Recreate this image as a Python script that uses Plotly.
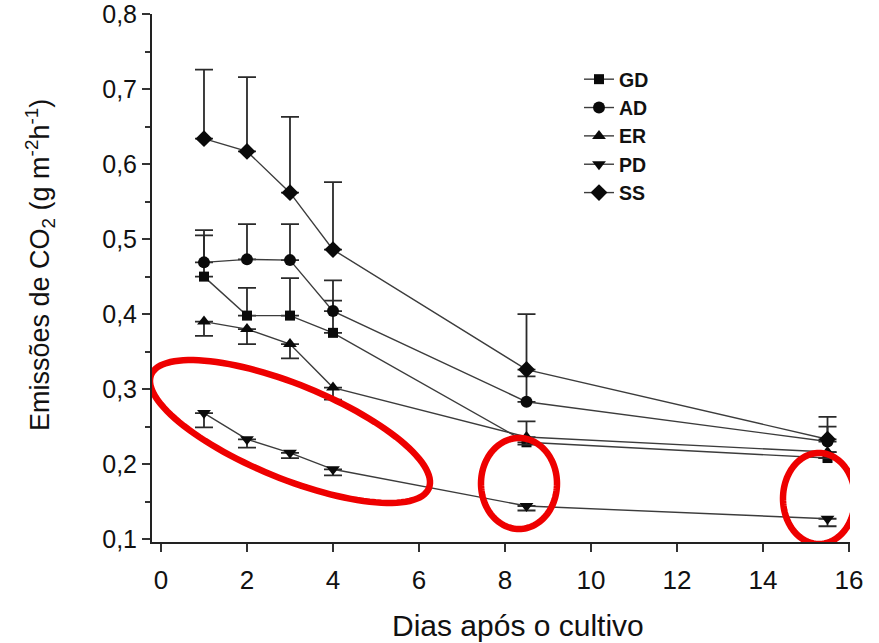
import numpy as np
import plotly.graph_objects as go

# ---------------- data ----------------
days = [1, 2, 3, 4, 8.5, 15.5]

series_names = ["GD", "AD", "ER", "PD", "SS"]

gd_values = [0.450, 0.398, 0.398, 0.375, 0.229, 0.208]
ad_values = [0.469, 0.473, 0.472, 0.404, 0.283, 0.230]
er_values = [0.390, 0.380, 0.360, 0.302, 0.236, 0.216]
pd_values = [0.268, 0.233, 0.215, 0.193, 0.144, 0.127]
ss_values = [0.634, 0.617, 0.562, 0.486, 0.326, 0.233]

# error bars (upper for GD, AD, SS; lower for ER, PD)
gd_err_up = [0.055, 0.037, 0.050, 0.043, 0.028, 0.008]
ad_err_up = [0.043, 0.047, 0.048, 0.041, 0.034, 0.020]
ss_err_up = [0.092, 0.099, 0.101, 0.090, 0.074, 0.030]
er_err_down = [0.019, 0.020, 0.019, 0.016, 0.010, 0.008]
pd_err_down = [0.019, 0.011, 0.007, 0.008, 0.006, 0.010]

x_ticks = [0, 2, 4, 6, 8, 10, 12, 14, 16]
y_ticks = [0.1, 0.2, 0.3, 0.4, 0.5, 0.6, 0.7, 0.8]

x_title = "Dias após o cultivo"
y_title = "Emissões de CO<sub>2</sub> (g m<sup>-2</sup>h<sup>-1</sup>)"

# ---------------- layout geometry ----------------
W, H = 879, 643
ML, MR, MT, MB = 152, 29, 14, 101
XR = [-0.209, 16.023]
YR = [0.096, 0.8003]

FONT = "Arial, Liberation Sans, sans-serif"
LINE_COLOR = "#3c3c3c"
MARK_COLOR = "#0a0a0a"
ERR_COLOR = "#2a2a2a"
TEXT_COLOR = "#111111"

pw = W - ML - MR
ph = H - MT - MB


def px_to_data(px, py):
    x = XR[0] + (px - ML) / pw * (XR[1] - XR[0])
    y = YR[1] - (py - MT) / ph * (YR[1] - YR[0])
    return x, y


def ellipse_path(cx, cy, a, b, theta_deg, n=120):
    t = np.linspace(0, 2 * np.pi, n, endpoint=False)
    th = np.radians(theta_deg)
    ex = cx + a * np.cos(t) * np.cos(th) - b * np.sin(t) * np.sin(th)
    ey = cy + a * np.cos(t) * np.sin(th) + b * np.sin(t) * np.cos(th)
    pts = [px_to_data(px, py) for px, py in zip(ex, ey)]
    return "M" + " L".join(f"{x:.5f},{y:.5f}" for x, y in pts) + " Z"


fig = go.Figure()

specs = [
    ("GD", gd_values, "square", 10, dict(type="data", symmetric=False, array=gd_err_up, arrayminus=[0] * 6)),
    ("AD", ad_values, "circle", 12, dict(type="data", symmetric=False, array=ad_err_up, arrayminus=[0] * 6)),
    ("ER", er_values, "triangle-up", 12, dict(type="data", symmetric=False, array=[0] * 6, arrayminus=er_err_down)),
    ("PD", pd_values, "triangle-down", 12, dict(type="data", symmetric=False, array=[0] * 6, arrayminus=pd_err_down)),
    ("SS", ss_values, "diamond", 13, dict(type="data", symmetric=False, array=ss_err_up, arrayminus=[0] * 6)),
]

for name, vals, sym, size, err in specs:
    err.update(color=ERR_COLOR, thickness=1.8, width=9)
    fig.add_trace(go.Scatter(
        x=days, y=vals, name=name, mode="lines+markers",
        line=dict(color=LINE_COLOR, width=1.4),
        marker=dict(symbol=sym, size=size, color=MARK_COLOR),
        error_y=err,
    ))

# red highlight ellipses (pixel-space geometry of the annotation marks)
ellipses = [
    (290, 431.5, 150, 47, 22.2),
    (519, 483.5, 38, 45.5, 0),
    (819, 498.5, 36, 45.5, 0),
]
for cx, cy, a, b, th in ellipses:
    fig.add_shape(type="path", path=ellipse_path(cx, cy, a, b, th),
                  xref="x", yref="y", line=dict(color="#ee0000", width=6.5),
                  fillcolor="rgba(0,0,0,0)", layer="above")

fig.add_annotation(text=x_title, xref="x", yref="paper", x=8.3, y=0,
                   yanchor="middle", yshift=-83, showarrow=False,
                   font=dict(family=FONT, size=30, color=TEXT_COLOR))

fig.add_annotation(text=y_title, xref="paper", yref="paper", x=0, y=1 - (265 - MT) / ph,
                   xanchor="center", yanchor="middle", xshift=40 - ML, textangle=-90,
                   showarrow=False, font=dict(family=FONT, size=27, color=TEXT_COLOR))

fig.update_layout(
    width=W, height=H,
    margin=dict(l=ML, r=MR, t=MT, b=MB, pad=0, autoexpand=False),
    paper_bgcolor="white", plot_bgcolor="white",
    separators=",.",
    font=dict(family=FONT, size=22, color=TEXT_COLOR),
    showlegend=True,
    legend=dict(x=(579 - ML) / pw, y=1 - (60 - MT) / ph, xanchor="left", yanchor="top",
                bgcolor="rgba(0,0,0,0)", borderwidth=0,
                font=dict(family=FONT, size=19.5, color=TEXT_COLOR, weight="bold"),
                tracegroupgap=0),
)

fig.update_xaxes(
    range=XR, tickmode="array", tickvals=x_ticks, ticktext=[str(v) for v in x_ticks],
    showline=True, linecolor="#222", linewidth=2, showgrid=False, zeroline=False,
    ticks="outside", ticklen=8, tickwidth=2, tickcolor="#333",
    ticklabelstandoff=6, ticklabeloverflow="allow", automargin=False,
    tickfont=dict(family=FONT, size=26, color=TEXT_COLOR),
)
fig.update_yaxes(
    range=YR, tickmode="array", tickvals=y_ticks, tickformat=".1f",
    showline=True, linecolor="#222", linewidth=2, showgrid=False, zeroline=False,
    ticks="outside", ticklen=8, tickwidth=2, tickcolor="#333",
    ticklabelstandoff=0, ticklabeloverflow="allow", automargin=False,
    tickfont=dict(family=FONT, size=25, color=TEXT_COLOR),
    minor=dict(dtick=0.05, ticks="outside", ticklen=5, tickwidth=2, tickcolor="#333"),
)

fig.write_html("out.html")
